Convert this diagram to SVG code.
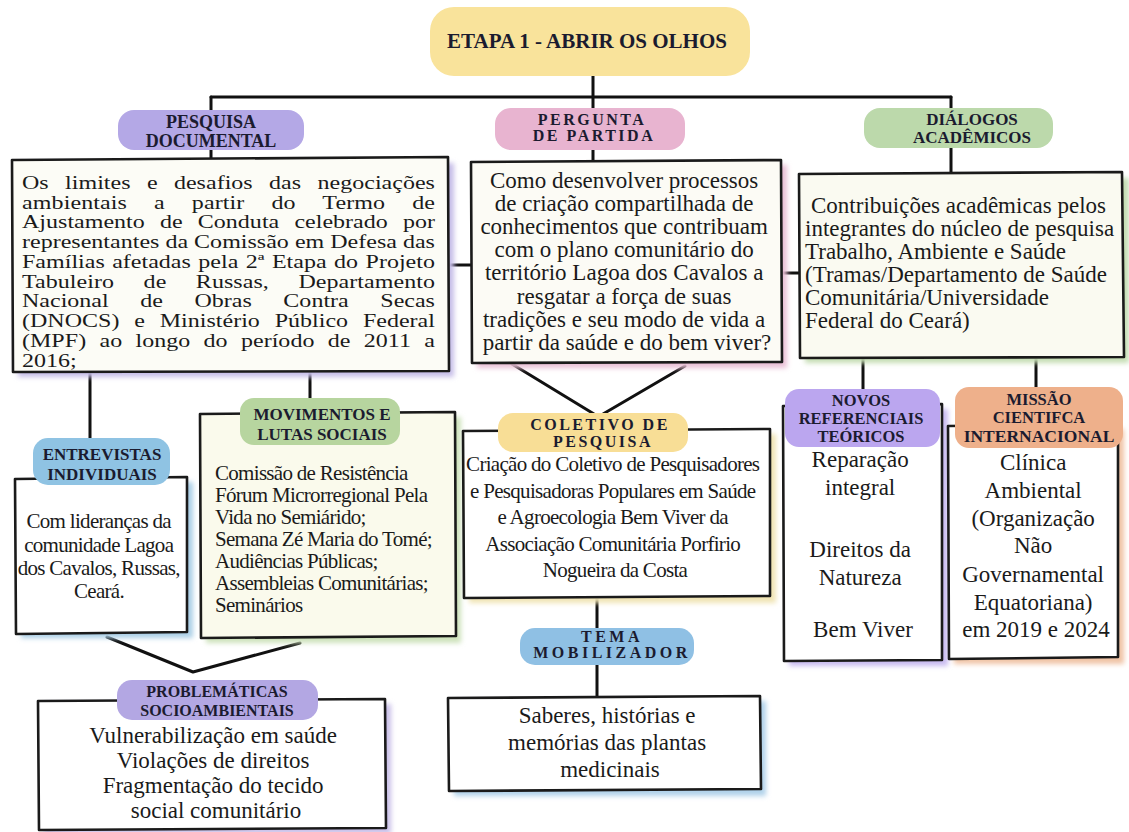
<svg xmlns="http://www.w3.org/2000/svg" width="1129" height="832" viewBox="0 0 1129 832">
<defs>
<filter id="blur" x="-10%" y="-10%" width="120%" height="120%"><feGaussianBlur stdDeviation="2.5"/></filter>
<style>
.box{stroke:#1a1a1a;stroke-width:2.6;stroke-linejoin:round}
.conn{stroke:#111;stroke-width:3;fill:none;stroke-linecap:round;stroke-linejoin:round}
.lbl{font-family:"Liberation Serif","Times New Roman",serif;font-weight:bold;fill:#1b1b2f;text-anchor:middle}
.body{font-family:"Liberation Serif","Times New Roman",serif;fill:#1a1a1a}
.c{text-anchor:middle}
.cond{letter-spacing:-0.7px}
.shadow{filter:url(#blur)}
</style>
</defs>
<rect width="1129" height="832" fill="#ffffff"/>

<g id="connectors">
<path class="conn" d="M593,74 V108"/>
<path class="conn" d="M211,97 H951"/>
<path class="conn" d="M211,97 V112"/>
<path class="conn" d="M951,97 V110"/>
<path class="conn" d="M211,148 V159"/>
<path class="conn" d="M593,148 V162"/>
<path class="conn" d="M951,146 V174"/>
<path class="conn" d="M448,265 H471"/>
<path class="conn" d="M781,273 H799"/>
<path class="conn" d="M90,371 V440"/>
<path class="conn" d="M310,371 V400"/>
<path class="conn" d="M512,364 L594,414"/>
<path class="conn" d="M685,366 L603,414"/>
<path class="conn" d="M863,357 V392"/>
<path class="conn" d="M1036,357 V390"/>
<path class="conn" d="M597,598 V630"/>
<path class="conn" d="M597,664 V697"/>
<path class="conn" d="M107,637 L193,672 L300,643"/>
</g>

<g id="title">
<rect x="430" y="7" width="320" height="69" rx="24" fill="#f9e39b"/>
<text class="lbl" x="587" y="48" font-size="21">ETAPA 1 - ABRIR OS OLHOS</text>
</g>

<g id="pesquisa-documental">
<rect class="shadow" x="18" y="163" width="436" height="214" fill="#c6bde8"/>
<path class="box" fill="#fcfcf6" d="M12,160 L448,157 L449,371 L13,372 Z"/>
<rect x="118" y="110" width="186" height="40" rx="16" fill="#b4a8e6"/>
<text class="lbl" x="211" y="128" font-size="18">PESQUISA</text>
<text class="lbl" x="211" y="147" font-size="18">DOCUMENTAL</text>
<g transform="translate(22 0) scale(1.232 1)" class="body" font-size="19.5">
<text x="0" y="189" word-spacing="8.4" textLength="335.2" lengthAdjust="spacing">Os limites e desafios das negociações</text>
<text x="0" y="208.75" word-spacing="17" textLength="335.2" lengthAdjust="spacing">ambientais a partir do Termo de</text>
<text x="0" y="228.5" word-spacing="7.4" textLength="335.2" lengthAdjust="spacing">Ajustamento de Conduta celebrado por</text>
<text x="0" y="248.25" textLength="335.2" lengthAdjust="spacing">representantes da Comissão em Defesa das</text>
<text x="0" y="268" word-spacing="1.2" textLength="335.2" lengthAdjust="spacing">Famílias afetadas pela 2ª Etapa do Projeto</text>
<text x="0" y="287.75" word-spacing="19" textLength="335.2" lengthAdjust="spacing">Tabuleiro de Russas, Departamento</text>
<text x="0" y="307.5" word-spacing="20.7" textLength="335.2" lengthAdjust="spacing">Nacional de Obras Contra Secas</text>
<text x="0" y="327.25" word-spacing="7.1" textLength="335.2" lengthAdjust="spacing">(DNOCS) e Ministério Público Federal</text>
<text x="0" y="347" word-spacing="5.9" textLength="335.2" lengthAdjust="spacing">(MPF) ao longo do período de 2011 a</text>
<text x="0" y="366.75">2016;</text>
</g>
</g>

<g id="pergunta-de-partida">
<rect class="shadow" x="477" y="165" width="310" height="203" fill="#e9bfd6"/>
<path class="box" fill="#fcfbf5" d="M471,162 L781,160 L782,362 L472,363 Z"/>
<rect x="495" y="108" width="190" height="42" rx="16" fill="#e8b4d0"/>
<text class="lbl" x="592" y="125" font-size="16" letter-spacing="2.5">PERGUNTA</text>
<text class="lbl" x="594" y="141" font-size="16" letter-spacing="2.5">DE PARTIDA</text>
<text class="body c" x="627" font-size="23">
<tspan x="627" y="188">Como desenvolver processos</tspan>
<tspan x="627" y="211.1">de criação compartilhada de</tspan>
<tspan x="627" y="234.2">conhecimentos que contribuam</tspan>
<tspan x="627" y="257.3">com o plano comunitário do</tspan>
<tspan x="627" y="280.4">território Lagoa dos Cavalos a</tspan>
<tspan x="627" y="303.5">resgatar a força de suas</tspan>
<tspan x="627" y="326.6">tradições e seu modo de vida a</tspan>
<tspan x="627" y="349.7">partir da saúde e do bem viver?</tspan>
</text>
</g>

<g id="dialogos-academicos">
<rect class="shadow" x="805" y="178" width="324" height="185" fill="#c5ddb3"/>
<path class="box" fill="#fafaf1" d="M799,174 L1122,172 L1124,357 L800,358 Z"/>
<rect x="864" y="108" width="189" height="40" rx="16" fill="#bcd9ab"/>
<text class="lbl" x="972" y="125" font-size="17">DIÁLOGOS</text>
<text class="lbl" x="972" y="143" font-size="17">ACADÊMICOS</text>
<text class="body" font-size="23">
<tspan x="811" y="213">Contribuições acadêmicas pelos</tspan>
<tspan x="805" y="236">integrantes do núcleo de pesquisa</tspan>
<tspan x="805" y="259">Trabalho, Ambiente e Saúde</tspan>
<tspan x="805" y="282">(Tramas/Departamento de Saúde</tspan>
<tspan x="805" y="305">Comunitária/Universidade</tspan>
<tspan x="805" y="328">Federal do Ceará)</tspan>
</text>
</g>

<g id="entrevistas-individuais">
<rect class="shadow" x="21" y="482" width="172" height="156" fill="#aacfe6"/>
<path class="box" fill="#ffffff" d="M15,479 L187,477 L187,632 L16,634 Z"/>
<rect x="33" y="438" width="137" height="47" rx="15" fill="#8fc3e3"/>
<text class="lbl" x="102" y="460" font-size="17">ENTREVISTAS</text>
<text class="lbl" x="102" y="480" font-size="17">INDIVIDUAIS</text>
<text class="body c cond" font-size="21">
<tspan x="101" y="528">Com lideranças da</tspan>
<tspan x="101" y="552">comunidade Lagoa</tspan>
<tspan x="101" y="575">dos Cavalos, Russas,</tspan>
<tspan x="99" y="598">Ceará.</tspan>
</text>
</g>

<g id="movimentos-lutas-sociais">
<rect class="shadow" x="206" y="417" width="255" height="226" fill="#cde2bb"/>
<path class="box" fill="#fafaec" d="M200,414 L455,412 L456,636 L201,638 Z"/>
<rect x="240" y="398" width="160" height="47" rx="14" fill="#b7d59f"/>
<text class="lbl" x="322" y="420" font-size="17">MOVIMENTOS E</text>
<text class="lbl" x="322" y="440" font-size="17">LUTAS SOCIAIS</text>
<text class="body cond" font-size="21">
<tspan x="215" y="480">Comissão de Resistência</tspan>
<tspan x="215" y="502">Fórum Microrregional Pela</tspan>
<tspan x="215" y="524">Vida no Semiárido;</tspan>
<tspan x="215" y="546">Semana Zé Maria do Tomé;</tspan>
<tspan x="215" y="568">Audiências Públicas;</tspan>
<tspan x="215" y="590">Assembleias Comunitárias;</tspan>
<tspan x="215" y="612">Seminários</tspan>
</text>
</g>

<g id="coletivo-de-pesquisa">
<rect class="shadow" x="469" y="434" width="307" height="169" fill="#f0e4b4"/>
<path class="box" fill="#ffffff" d="M463,431 L770,429 L770,596 L464,598 Z"/>
<rect x="498" y="413" width="190" height="39" rx="15" fill="#f8de96"/>
<text class="lbl" x="600" y="430" font-size="16" letter-spacing="2.5">COLETIVO DE</text>
<text class="lbl" x="603" y="447" font-size="16" letter-spacing="2.5">PESQUISA</text>
<text class="body c cond" font-size="21">
<tspan x="615" y="471">Criação do Coletivo de Pesquisadores</tspan>
<tspan x="615" y="497.5">e Pesquisadoras Populares em Saúde</tspan>
<tspan x="615" y="524">e Agroecologia Bem Viver  da</tspan>
<tspan x="615" y="550.5">Associação Comunitária Porfirio</tspan>
<tspan x="615" y="577">Nogueira da Costa</tspan>
</text>
</g>

<g id="tema-mobilizador">
<rect class="shadow" x="454" y="701" width="312" height="95" fill="#b0d2ea"/>
<path class="box" fill="#ffffff" d="M448,698 L760,696 L761,789 L449,791 Z"/>
<rect x="520" y="628" width="174" height="37" rx="15" fill="#8fc0e4"/>
<text class="lbl" x="612" y="642" font-size="16" letter-spacing="3.5">TEMA</text>
<text class="lbl" x="612" y="658" font-size="16" letter-spacing="3.5">MOBILIZADOR</text>
<text class="body c" font-size="23">
<tspan x="610" y="723">Saberes, histórias e</tspan>
<tspan x="610" y="750">memórias das plantas</tspan>
<tspan x="610" y="777">medicinais</tspan>
</text>
</g>

<g id="problematicas-socioambientais">
<rect class="shadow" x="44" y="704" width="347" height="130" fill="#c9bfe8"/>
<path class="box" fill="#ffffff" d="M38,701 L385,699 L386,828 L39,830 Z"/>
<rect x="117" y="680" width="201" height="40" rx="15" fill="#b3a7e3"/>
<text class="lbl" x="217" y="697" font-size="16">PROBLEMÁTICAS</text>
<text class="lbl" x="217" y="716" font-size="16">SOCIOAMBIENTAIS</text>
<text class="body c" font-size="23">
<tspan x="216" y="743">Vulnerabilização em saúde</tspan>
<tspan x="216" y="768">Violações de direitos</tspan>
<tspan x="216" y="793">Fragmentação do tecido</tspan>
<tspan x="216" y="818">social comunitário</tspan>
</text>
</g>

<g id="novos-referenciais-teoricos">
<rect class="shadow" x="789" y="409" width="159" height="257" fill="#c8baf0"/>
<path class="box" fill="#ffffff" d="M783,406 L942,404 L942,660 L784,661 Z"/>
<rect x="785" y="389" width="155" height="58" rx="14" fill="#bba6ef"/>
<text class="lbl" x="861" y="406" font-size="16.5">NOVOS</text>
<text class="lbl" x="861" y="424" font-size="16.5">REFERENCIAIS</text>
<text class="lbl" x="861" y="442" font-size="16.5">TEÓRICOS</text>
<text class="body c" font-size="23">
<tspan x="863" y="467">Reparação</tspan>
<tspan x="863" y="495">integral</tspan>
<tspan x="863" y="557">Direitos da</tspan>
<tspan x="863" y="585">Natureza</tspan>
<tspan x="863" y="637">Bem Viver</tspan>
</text>
</g>

<g id="missao-cientifica-internacional">
<rect class="shadow" x="954" y="429" width="170" height="235" fill="#f0c3a5"/>
<path class="box" fill="#ffffff" d="M948,426 L1118,424 L1118,657 L949,659 Z"/>
<rect x="955" y="387" width="168" height="61" rx="14" fill="#eeb08b"/>
<text class="lbl" x="1039" y="405" font-size="16.5">MISSÃO</text>
<text class="lbl" x="1039" y="423" font-size="16.5">CIENTIFCA</text>
<text class="lbl" x="1039" y="442" font-size="17.5">INTERNACIONAL</text>
<text class="body c" font-size="23">
<tspan x="1036" y="470">Clínica</tspan>
<tspan x="1036" y="498">Ambiental</tspan>
<tspan x="1036" y="526">(Organização</tspan>
<tspan x="1036" y="553">Não</tspan>
<tspan x="1036" y="582">Governamental</tspan>
<tspan x="1036" y="610">Equatoriana)</tspan>
<tspan x="1036" y="637">em 2019 e 2024</tspan>
</text>
</g>
</svg>
